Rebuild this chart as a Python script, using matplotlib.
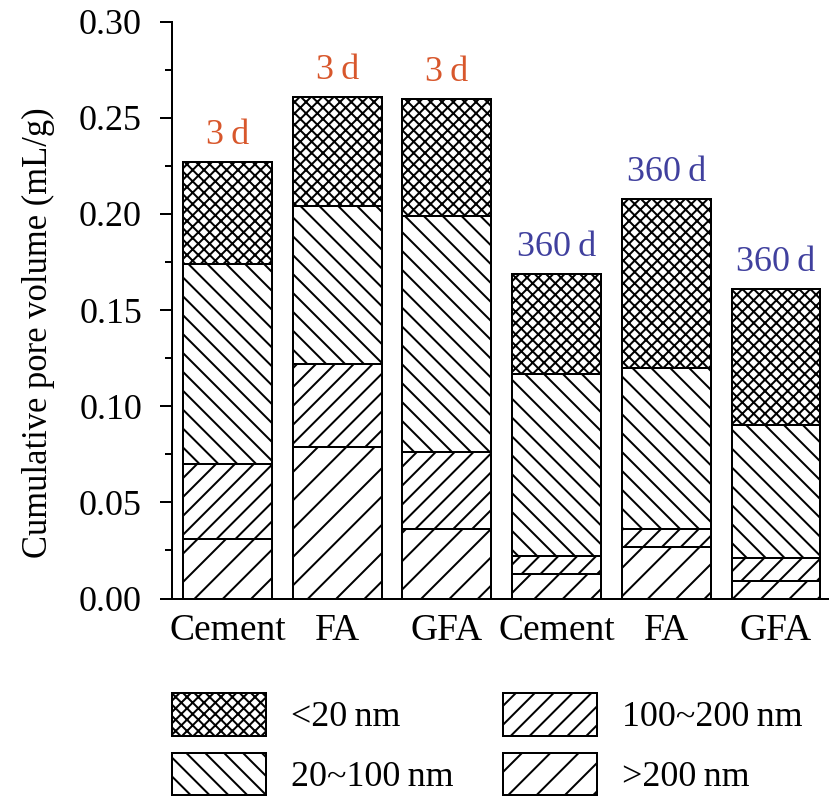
import matplotlib
matplotlib.use('Agg')
import matplotlib.pyplot as plt
import numpy as np
from matplotlib.ticker import MultipleLocator, FormatStrFormatter

# categories and ages
samples = ["Cement", "FA", "GFA", "Cement", "FA", "GFA"]
ages = ["3\u2009d", "3\u2009d", "3\u2009d", "360\u2009d", "360\u2009d", "360\u2009d"]

# pore volume of each size class (mL/g), bottom to top
gt200 = [0.031, 0.079, 0.036, 0.013, 0.027, 0.009]
p100_200 = [0.039, 0.043, 0.040, 0.009, 0.009, 0.012]
p20_100 = [0.104, 0.082, 0.123, 0.095, 0.084, 0.069]
lt20 = [0.053, 0.057, 0.061, 0.052, 0.088, 0.071]

# dpi picked so the hatch spacing comes out like the original
DPI = 170
def pt(px):
    return px * 72.0 / DPI

plt.rcParams['font.family'] = ['Liberation Serif', 'DejaVu Serif']
plt.rcParams['hatch.linewidth'] = pt(2.0)
plt.rcParams['axes.linewidth'] = pt(2.0)

fig = plt.figure(figsize=(831 / DPI, 799 / DPI), dpi=DPI)
ax = fig.add_axes([172 / 831, 1 - 598.5 / 799, 656 / 831, 576.8 / 799])

x = np.arange(len(samples))
w = 0.81
kw = dict(width=w, color='white', edgecolor='black', linewidth=pt(2.0))

b0 = np.zeros(len(samples))
h1 = ax.bar(x, gt200, bottom=b0, hatch='//', **kw)
b1 = b0 + np.array(gt200)
h2 = ax.bar(x, p100_200, bottom=b1, hatch='///', **kw)
b2 = b1 + np.array(p100_200)
h3 = ax.bar(x, p20_100, bottom=b2, hatch='\\\\\\', **kw)
b3 = b2 + np.array(p20_100)
h4 = ax.bar(x, lt20, bottom=b3, hatch='xxxxx', **kw)
tops = b3 + np.array(lt20)

for i in range(len(samples)):
    col = '#d8572c' if i < 3 else '#40409e'
    ax.annotate(ages[i], (x[i], tops[i]), xytext=(0, pt(18)), textcoords='offset points',
                ha='center', va='baseline', fontsize=pt(36), color=col)

ax.set_xlim(-0.506, 5.474)
ax.set_ylim(0, 0.30)
ax.yaxis.set_major_locator(MultipleLocator(0.05))
ax.yaxis.set_minor_locator(MultipleLocator(0.025))
ax.yaxis.set_major_formatter(FormatStrFormatter('%.2f'))
ax.tick_params(axis='y', which='major', direction='out', length=pt(12), width=pt(2), pad=pt(18), labelsize=pt(36))
ax.tick_params(axis='y', which='minor', direction='out', length=pt(7), width=pt(2))
ax.set_xticks(x)
ax.set_xticklabels(samples)
ax.tick_params(axis='x', length=0, pad=pt(15), labelsize=pt(37.5))
ax.spines['top'].set_visible(False)
ax.spines['right'].set_visible(False)
ax.set_ylabel("Cumulative pore volume (mL/g)", fontsize=pt(34.5), labelpad=pt(24), y=0.461)

fig.legend([h4, h3, h2, h1], ["<20\u2009nm", "20~100\u2009nm", "100~200\u2009nm", ">200\u2009nm"],
           ncol=2, loc='upper left', bbox_to_anchor=(172 / 831, 1 - 693 / 799),
           frameon=False, fontsize=pt(36), handlelength=2.6, handleheight=1.45,
           handletextpad=0.7, columnspacing=1.39, labelspacing=0.47,
           borderpad=0, borderaxespad=0)

fig.savefig('out.png', dpi=DPI)
